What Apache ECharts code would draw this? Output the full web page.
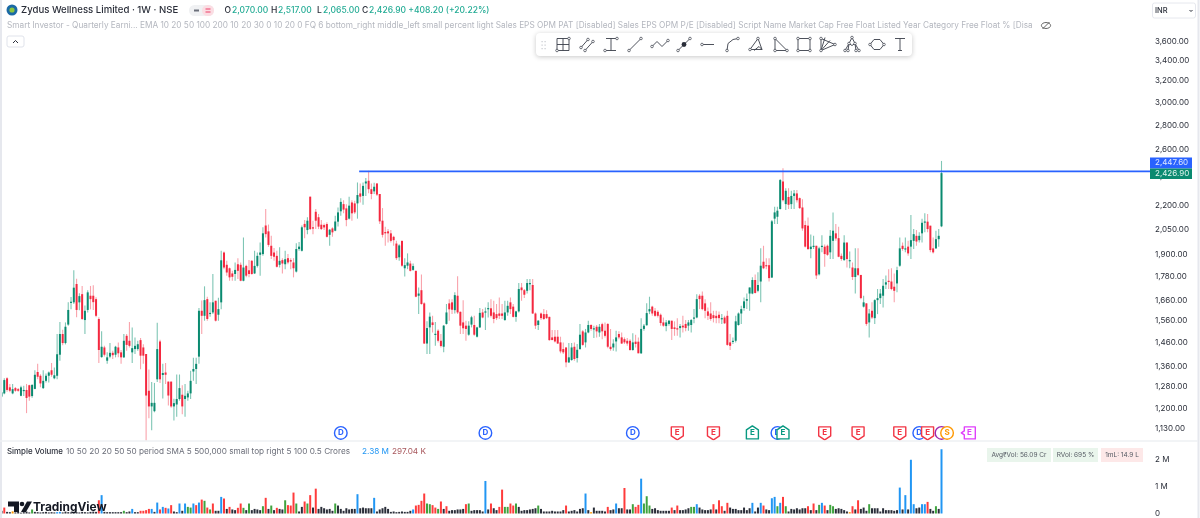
<!DOCTYPE html>
<html>
<head>
<meta charset="utf-8">
<title>Zydus Wellness Limited</title>
<script src="https://cdn.jsdelivr.net/npm/echarts@6/dist/echarts.min.js"></script>
<style>
  html, body { margin: 0; padding: 0; background: #fff; }
  #chart { width: 1200px; height: 518px; }
</style>
</head>
<body>
<div id="chart"></div>
<script>
// weekly candles, each row is [open, close, low, high]
var weeklyCandles = [
  [1244,1260,1240,1270],[1256,1307,1253,1314],[1314,1269,1262,1318],[1279,1266,1260,1292],[1256,1272,1253,1292],
  [1276,1266,1262,1280],[1272,1266,1262,1276],[1247,1279,1245,1285],[1266,1269,1246,1285],[1269,1239,1184,1292],
  [1287,1244,1229,1289],[1246,1288,1240,1292],[1273,1328,1272,1346],[1339,1320,1310,1372],[1324,1294,1279,1330],
  [1276,1304,1273,1346],[1304,1324,1298,1333],[1324,1337,1298,1341],[1346,1328,1320,1376],[1314,1326,1310,1357],
  [1324,1412,1310,1500],[1410,1500,1385,1555],[1500,1460,1450,1519],[1460,1533,1454,1553],[1543,1612,1538,1650],
  [1647,1652,1615,1675],[1649,1723,1641,1815],[1742,1612,1577,1770],[1649,1680,1610,1695],[1690,1569,1564,1732],
  [1564,1608,1500,1633],[1612,1699,1600,1710],[1682,1665,1615,1732],[1682,1650,1612,1735],[1665,1584,1577,1674],
  [1569,1430,1375,1577],[1400,1444,1397,1512],[1441,1410,1402,1448],[1385,1399,1372,1420],[1402,1418,1395,1460],
  [1418,1408,1392,1427],[1410,1444,1399,1448],[1441,1416,1399,1462],[1420,1399,1372,1430],[1399,1470,1396,1500],
  [1492,1452,1427,1500],[1470,1448,1441,1555],[1420,1438,1375,1530],[1434,1448,1413,1485],[1434,1455,1427,1470],
  [1473,1406,1350,1482],[1441,1406,1372,1455],[1413,1248,1090,1413],[1266,1208,1166,1349],[1208,1221,1125,1300],
  [1191,1221,1187,1296],[1310,1434,1300,1552],[1467,1310,1296,1474],[1327,1335,1237,1372],[1337,1328,1292,1376],
  [1301,1248,1211,1301],[1301,1208,1203,1301],[1208,1220,1158,1236],[1215,1235,1171,1329],[1235,1276,1229,1329],
  [1251,1208,1180,1287],[1235,1247,1171,1292],[1241,1256,1229,1266],[1256,1304,1235,1344],[1341,1351,1304,1397],
  [1351,1372,1292,1397],[1402,1608,1372,1622],[1608,1584,1500,1658],[1584,1660,1561,1730],[1665,1569,1561,1677],
  [1595,1598,1580,1650],[1600,1649,1592,1795],[1657,1561,1557,1657],[1589,1616,1561,1672],[1649,1870,1615,1924],
  [1914,1830,1821,1920],[1845,1803,1786,1867],[1826,1777,1759,1830],[1798,1780,1759,1812],[1795,1817,1759,1858],
  [1848,1812,1768,1882],[1845,1759,1756,1858],[1759,1830,1756,2002],[1839,1786,1777,1845],[1815,1795,1777,1871],
  [1867,1795,1791,1871],[1798,1839,1795,1924],[1839,1895,1830,1914],[1901,1914,1786,1972],[1905,2027,1895,2064],
  [2075,2022,2002,2180],[2039,1958,1947,2081],[1953,1895,1877,2012],[1914,1890,1867,1940],[1895,1834,1830,1924],
  [1845,1867,1830,1944],[1871,1852,1798,1882],[1848,1876,1821,1924],[1882,1858,1848,1905],[1871,1863,1821,1882],
  [1858,1826,1777,1882],[1808,1934,1803,1968],[1934,1948,1924,1975],[1924,2064,1920,2075],[2085,2064,1998,2110],
  [2047,2105,2022,2127],[2262,2053,2047,2262],[2064,2056,2022,2105],[2162,2105,2053,2180],[2127,2068,2053,2148],
  [2080,2053,2047,2109],[2078,2063,2047,2088],[2084,2006,2002,2095],[2018,2049,1953,2053],[2057,2033,2006,2064],
  [2043,2100,2039,2137],[2099,2158,2069,2190],[2165,2227,2137,2252],[2212,2176,2152,2238],[2184,2109,2070,2212],
  [2118,2202,2112,2262],[2223,2152,2105,2238],[2217,2158,2148,2234],[2217,2273,2118,2360],[2284,2262,2223,2353],
  [2267,2336,2208,2360],[2353,2367,2267,2391],[2372,2313,2286,2444],[2313,2280,2245,2353],[2298,2330,2280,2358],
  [2353,2276,2267,2355],[2280,2101,2084,2280],[2105,2018,2002,2186],[2035,2027,1953,2068],[2039,2027,1972,2053],
  [2027,1982,1972,2047],[2006,1986,1953,2012],[1966,1882,1872,1982],[1887,1955,1867,1962],[1982,1840,1834,1982],
  [1826,1843,1782,1882],[1840,1858,1821,1909],[1852,1812,1809,1867],[1817,1838,1812,1852],[1812,1677,1674,1812],
  [1682,1693,1592,1724],[1710,1641,1637,1792],[1644,1458,1456,1649],[1458,1527,1413,1558],[1530,1580,1413,1600],
  [1553,1541,1507,1584],[1498,1501,1448,1555],[1515,1470,1463,1522],[1470,1447,1441,1500],[1444,1538,1420,1541],
  [1546,1600,1543,1641],[1644,1615,1561,1665],[1649,1613,1592,1665],[1611,1685,1595,1699],[1682,1600,1592,1783],
  [1603,1538,1500,1605],[1553,1526,1500,1660],[1538,1523,1470,1561],[1497,1538,1492,1558],[1543,1577,1530,1584],
  [1541,1497,1492,1584],[1488,1530,1485,1533],[1530,1598,1527,1621],[1600,1576,1573,1616],[1600,1605,1518,1624],
  [1616,1621,1576,1649],[1620,1584,1576,1665],[1600,1569,1549,1657],[1592,1573,1564,1641],[1595,1584,1569,1673],
  [1595,1584,1569,1641],[1564,1600,1561,1657],[1600,1632,1584,1657],[1649,1616,1592,1673],[1628,1579,1576,1641],
  [1579,1605,1556,1608],[1605,1716,1600,1747],[1724,1710,1657,1747],[1710,1687,1670,1716],[1707,1747,1693,1768],
  [1742,1747,1710,1768],[1737,1595,1592,1768],[1595,1538,1523,1600],[1541,1561,1518,1564],[1595,1573,1564,1600],
  [1592,1569,1564,1616],[1592,1573,1569,1611],[1579,1473,1470,1579],[1485,1473,1473,1518],[1488,1467,1463,1518],
  [1488,1458,1456,1518],[1463,1424,1416,1488],[1434,1420,1413,1463],[1441,1378,1358,1441],[1378,1399,1375,1460],
  [1388,1441,1385,1460],[1444,1392,1385,1463],[1396,1431,1378,1456],[1434,1497,1431,1546],[1512,1452,1448,1518],
  [1463,1507,1441,1523],[1507,1541,1503,1561],[1541,1523,1515,1545],[1523,1526,1482,1538],[1533,1512,1485,1541],
  [1507,1533,1488,1546],[1545,1512,1477,1552],[1515,1492,1485,1553],[1546,1444,1438,1549],[1444,1434,1427,1523],
  [1441,1458,1427,1477],[1467,1485,1424,1515],[1500,1485,1477,1512],[1485,1458,1456,1507],[1477,1463,1456,1485],
  [1470,1458,1448,1482],[1470,1430,1427,1477],[1430,1463,1427,1503],[1466,1456,1441,1497],[1466,1416,1416,1485],
  [1416,1523,1413,1573],[1523,1538,1515,1546],[1540,1597,1538,1644],[1605,1616,1592,1677],[1628,1595,1584,1632],
  [1608,1584,1579,1621],[1603,1584,1576,1611],[1589,1550,1538,1595],[1553,1538,1533,1576],[1536,1553,1512,1564],
  [1546,1561,1538,1564],[1561,1523,1473,1561],[1530,1523,1492,1558],[1526,1523,1492,1573],[1527,1536,1485,1546],
  [1538,1530,1507,1584],[1546,1527,1512,1564],[1538,1553,1515,1564],[1541,1564,1507,1569],[1573,1576,1549,1616],
  [1576,1665,1573,1690],[1682,1665,1616,1690],[1682,1616,1611,1704],[1644,1608,1573,1665],[1605,1584,1564,1624],
  [1595,1569,1561,1649],[1587,1573,1553,1608],[1584,1573,1549,1608],[1589,1573,1549,1605],[1570,1573,1546,1592],
  [1576,1549,1546,1584],[1584,1452,1448,1608],[1463,1448,1430,1500],[1467,1470,1456,1485],[1470,1558,1463,1584],
  [1541,1595,1538,1600],[1595,1616,1546,1632],[1621,1654,1608,1673],[1657,1665,1616,1693],[1693,1724,1608,1724],
  [1693,1763,1690,1778],[1763,1696,1693,1792],[1707,1737,1699,1805],[1755,1840,1649,1938],[1862,1826,1821,1953],
  [1843,1838,1821,1882],[1843,1773,1755,1882],[1776,2101,1773,2109],[2118,2158,2084,2195],[2130,2169,2084,2195],
  [2180,2377,2176,2385],[2367,2238,2230,2463],[2212,2302,2173,2320],[2260,2208,2180,2320],[2212,2267,2180,2302],
  [2267,2284,2180,2307],[2284,2238,2223,2307],[2252,2186,2180,2257],[2190,2057,2043,2245],[2078,1948,1943,2105],
  [2074,1934,1928,2125],[1934,1948,1882,2020],[1948,1953,1934,2012],[1953,1787,1768,1953],[1793,1938,1787,1948],
  [1948,1953,1915,2016],[1948,1905,1834,1960],[1953,1901,1895,1960],[1915,2012,1877,2047],[1982,2043,1877,2158],
  [2027,1996,1982,2084],[1998,1890,1887,2068],[1895,1877,1867,1909],[1871,1972,1867,2016],[1972,1877,1830,1972],
  [1867,1871,1826,1920],[1830,1779,1763,1858],[1779,1826,1693,1938],[1826,1790,1784,1938],[1790,1670,1665,1790],
  [1628,1649,1624,1682],[1644,1546,1538,1644],[1553,1595,1485,1616],[1608,1576,1569,1649],[1573,1660,1546,1665],
  [1660,1670,1592,1716],[1670,1693,1641,1716],[1682,1733,1624,1768],[1739,1751,1716,1787],[1759,1755,1716,1821],
  [1755,1716,1710,1826],[1728,1707,1649,1798],[1745,1816,1699,1834],[1840,1938,1834,2002],[1953,1934,1924,1972],
  [1934,1938,1915,2002],[1948,1909,1895,1982],[1948,1986,1877,2142],[1982,2022,1934,2053],[2012,1978,1953,2047],
  [1986,2012,1972,2033],[2027,2092,1972,2118],[2094,2100,2033,2152],[2099,2053,2033,2147],[2074,1928,1915,2074],
  [1938,1915,1909,2002],[1938,1992,1934,2043],[1992,2012,1948,2053],[2070,2426.9,2065,2517]
];

// weekly volume in thousands
var volumesK = [
  100,220,60,50,80,40,60,30,50,70,40,150,60,50,40,50,60,40,50,40,50,60,40,70,50,40,60,50,40,60,50,40,60,70,60,
  490,680,60,50,50,50,50,50,50,100,
  50,75,170,50,50,100,100,125,170,170,
  60,405,150,245,210,185,310,75,50,370,
  100,370,245,220,370,310,405,515,470,220,
  150,370,100,100,615,555,170,245,150,125,
  210,370,210,125,370,125,170,150,125,270,
  580,170,295,125,210,170,150,490,310,295,
  775,370,75,245,445,370,680,220,920,170,
  245,195,150,170,100,370,295,170,100,195,
  150,170,170,715,195,220,195,195,195,580,
  75,150,195,245,170,60,75,50,60,75,
  60,60,100,150,295,320,470,740,370,345,
  310,220,170,445,170,270,100,125,125,150,
  150,170,345,370,100,125,125,125,
  75,1205,150,370,195,125,245,885,245,245,
  370,295,370,245,100,125,125,150,170,195,
  295,170,75,75,75,100,75,75,75,125,
  295,75,100,125,75,170,195,740,125,50,
  220,100,100,100,75,245,125,150,370,195,
  195,945,150,150,345,245,320,1290,370,640,
  295,170,195,125,100,100,100,100,220,125,
  295,125,125,150,195,245,245,345,220,150,
  125,125,150,345,150,490,270,100,395,220,
  170,170,125,125,220,125,195,395,75,220,
  395,295,150,125,565,615,270,395,615,270,
  75,170,150,195,150,195,195,270,125,370,
  125,320,395,295,125,320,270,170,195,170,
  125,75,50,270,150,490,170,220,100,345,
  195,195,195,75,195,125,125,125,100,125,
  960,150,680,150,1990,345,195,220,345,345,
  430,170,100,270,170,2380
];
// b blue, r red, g green, k black, o orange - same order as volumesK
var volumeKinds = [
  "krkkokkkkkkgkkkkkkkkbbkkkkkkkkkkkkk",
  "rbkkkkkkkg","kkbkkrrrrb","kbrbrbrkkb","kbggbrbrgr","grkkbrkrkk","rrgkgkkkkg","rkgkrkkgrr",
  "rgkkrgrkrk","kkkkkgkkkk","kkkbkkkkkb","kkkkkkkkkk","kkkbrrrrgg","rrgrkrkkkk","kkrgkkkk",
  "kbkrkkrrgg","rrgkkkkkkk","gkkkkkkkkk","rkkkkkkbko","kkkkkrkkbk","krkkgrrbgg","gkkkkkkkrk",
  "rkkkkggbkk","kkkrkrrkrk","kkkkkkkbkk","brkkbbgbrg","kkkkkkkrkr","kgbrkggkkk","kkorkrkkkg",
  "kkkkkkkkkk","bkbkbbkkbb","rkkgkb"
].join("");

var priceTicks = [1130, 1200, 1280, 1360, 1460, 1560, 1660, 1780, 1900, 2050, 2200, 2400, 2600, 2800, 3000, 3200, 3400, 3600];
var volumeTicks = [0, 1000000, 2000000];
var levelPrice = 2440;
var levelStartWeek = 128.6;

// events along the bottom of the price pane
var eventWeeks = [122, 174, 227, 243, 256, 270, 279, 281, 296, 308, 323, 330, 333, 338, 340, 348];
var eventLetters = ["D", "D", "D", "E", "E", "E", "D", "E", "E", "E", "E", "D", "E", "", "S", "E"];
var eventKinds = ["div", "div", "div", "miss", "miss", "beat", "div", "beat", "miss", "miss", "miss", "div", "miss", "split", "sp", "next"];

var eventStyle = {
  div: { color: "#2962ff", shape: "circle" },
  miss: { color: "#f23645", shape: "shield" },
  beat: { color: "#089981", shape: "house" },
  split: { color: "#9c27b0", shape: "circle" },
  sp: { color: "#ff9800", shape: "circle" },
  next: { color: "#e040fb", shape: "tag" }
};
var eventOutline = {
  shield: [[-6, -6], [6, -6], [6, 3], [0, 7], [-6, 3]],
  house: [[0, -7], [6, -3], [6, 6], [-6, 6], [-6, -3]],
  tag: [[-5, -6], [6, -6], [6, 6], [-5, 6], [-5, 2], [-8, 0], [-5, -2]]
};
var volumeColors = { b: "#2196f3", r: "#ff3b3b", g: "#3fa33f", k: "#2a2e39", o: "#ff9800" };

var chartDom = document.getElementById("chart");
var myChart = echarts.init(chartDom);

var font = "Inter";
var paneWidth = 1150;
var firstX = 1.5;
var weekStep = (941.5 - firstX) / (weeklyCandles.length - 1);
var xMin = -firstX / weekStep;
var xMax = (paneWidth - firstX) / weekStep;
var chromeZ = 50; // above the axis labels, the price tags must hide 2,400.00

function formatPrice(v) {
  return Number(v).toLocaleString("en-US", { minimumFractionDigits: 2, maximumFractionDigits: 2 });
}

function renderCandle(params, api) {
  var x = api.coord([api.value(0), api.value(1)])[0];
  var o = api.coord([api.value(0), api.value(1)])[1];
  var c = api.coord([api.value(0), api.value(2)])[1];
  var l = api.coord([api.value(0), api.value(3)])[1];
  var h = api.coord([api.value(0), api.value(4)])[1];
  var up = api.value(2) >= api.value(1);
  var top = Math.min(o, c);
  var bodyH = Math.max(Math.abs(o - c), 1.2);
  return {
    type: "group",
    children: [
      {
        type: "line",
        shape: { x1: x, y1: h, x2: x, y2: l },
        style: { stroke: up ? "#7fc6b5" : "#f9a3ac", lineWidth: 1.1 }
      },
      {
        type: "rect",
        shape: { x: x - 1, y: top, width: 2, height: bodyH },
        style: { fill: up ? "#0a8a70" : "#f4283f" }
      }
    ]
  };
}

function renderEvent(params, api) {
  var p = api.coord([api.value(0), api.value(1)]);
  var letter = eventLetters[params.dataIndex];
  var st = eventStyle[eventKinds[params.dataIndex]];
  var outline;
  if (st.shape === "circle") {
    outline = {
      type: "circle",
      shape: { cx: p[0], cy: p[1], r: 6.3 },
      style: { fill: "#fff", stroke: st.color, lineWidth: 1.4 }
    };
  } else {
    outline = {
      type: "polygon",
      shape: { points: eventOutline[st.shape].map(function (q) { return [p[0] + q[0], p[1] + q[1]]; }) },
      style: { fill: "#fff", stroke: st.color, lineWidth: 1.4, lineJoin: "round" }
    };
  }
  return {
    type: "group",
    children: [
      outline,
      {
        type: "text",
        style: {
          x: p[0], y: p[1], text: letter, fill: st.color, align: "center", verticalAlign: "middle",
          font: "700 8px " + font
        }
      }
    ]
  };
}

// chrome helpers, everything outside the two panes
function label(x, y, text, size, color, weight, align) {
  return {
    type: "text",
    silent: true,
    z: chromeZ,
    style: {
      x: x, y: y, text: text, fill: color, align: align || "left", verticalAlign: "middle",
      font: (weight || 400) + " " + size + "px " + font
    }
  };
}
function box(x, y, w, h, fill, r, stroke) {
  return {
    type: "rect",
    silent: true,
    z: chromeZ,
    shape: { x: x, y: y, width: w, height: h, r: r || 0 },
    style: { fill: fill, stroke: stroke || null, lineWidth: 1 }
  };
}
function stroke(points, color, width) {
  return {
    type: "polyline",
    silent: true,
    z: chromeZ,
    shape: { points: points },
    style: { stroke: color || "#3a3e49", lineWidth: width || 0.9, fill: null }
  };
}
function dot(x, y) {
  return {
    type: "circle",
    silent: true,
    z: chromeZ,
    shape: { cx: x, cy: y, r: 1.3 },
    style: { fill: "#fff", stroke: "#3a3e49", lineWidth: 0.7 }
  };
}

// drawing toolbar, one entry per tool, coordinates around the icon centre
var toolIcons = [
  { x: 563, lines: [[[-6, -6], [6, -6], [6, 6], [-6, 6], [-6, -6]], [[-6, 0], [6, 0]], [[0, -6], [0, 6]]], dots: [[6, -6], [-6, 6]] },
  { x: 587, lines: [[[-6, 3], [1, -5]], [[-2, 6], [6, -3]]], dots: [[-6, 3], [1, -5], [-2, 6], [6, -3]] },
  { x: 611, lines: [[[-5, -6], [6, -6]], [[-6, 6], [5, 6]], [[0, -6], [0, 6]]], dots: [[6, -6], [-6, 6]] },
  { x: 635, lines: [[[-6, 6], [6, -6]]], dots: [[-6, 6], [6, -6]] },
  { x: 660, lines: [[[-8, 2], [-3, -3], [2, 2], [8, -4]]], dots: [[-8, 2], [8, -4]] },
  { x: 684, lines: [[[-6, 6], [6, -6]]], dots: [[-6, 6], [6, -6]], solid: [0, 0] },
  { x: 708, lines: [[[-7, 0], [6, 0]]], dots: [[-6, 0]] },
  { x: 732, lines: [[[-5, 6], [-4, -1], [1, -5], [6, -6]]], dots: [[-5, 6], [6, -6]] },
  { x: 756, lines: [[[-6, 5], [2, -6], [6, 5], [-6, 5]], [[-2, 6], [3, 2], [6, 5]]], dots: [[-6, 5], [2, -6]] },
  { x: 780, lines: [[[-5, -6], [-5, 6], [7, 6], [-5, -6]]], dots: [[-5, -6], [-5, 6], [7, 6]] },
  { x: 804, lines: [[[-6, -6], [6, -6], [6, 6], [-6, 6], [-6, -6]]], dots: [[-6, -6], [6, -6], [6, 6], [-6, 6]] },
  { x: 828, lines: [[[-7, -6], [-7, 6], [7, 0], [-7, -6]], [[-3, -7], [-7, 6]], [[2, -4], [-7, 6]]], dots: [[-7, -6], [-7, 6], [7, 0]] },
  { x: 852, lines: [[[-7, 6], [-3, -1], [0, -7], [3, -1], [7, 6]], [[-4, 6], [-3, -1], [0, 1], [3, -1], [4, 6]]], dots: [[-7, 6], [-4, 6], [0, -7], [4, 6], [7, 6], [-3, -1], [3, -1]] },
  { x: 877, lines: [[[-7, 0], [-3, -5], [3, -5], [7, 0], [3, 5], [-3, 5], [-7, 0]]], dots: [[-7, 0], [7, 0]] }
];
var toolbarY = 44.5;
var toolbar = [{
  type: "rect",
  silent: true,
  z: chromeZ,
  shape: { x: 536, y: 33, width: 376, height: 23, r: 4 },
  style: { fill: "#fff", shadowBlur: 5, shadowColor: "rgba(0,0,0,0.22)", shadowOffsetY: 1 }
}];
[541.5, 544.5].forEach(function (dx) {
  [41, 44.5, 48].forEach(function (dy) {
    toolbar.push(box(dx, dy, 1.2, 1.2, "#c8cad0"));
  });
});
toolIcons.forEach(function (icon) {
  icon.lines.forEach(function (pts) {
    toolbar.push(stroke(pts.map(function (q) { return [icon.x + q[0], toolbarY + q[1]]; })));
  });
  if (icon.solid) {
    toolbar.push({ type: "circle", silent: true, z: chromeZ, shape: { cx: icon.x + icon.solid[0], cy: toolbarY + icon.solid[1], r: 2.4 }, style: { fill: "#2a2e39" } });
  }
  icon.dots.forEach(function (q) {
    toolbar.push(dot(icon.x + q[0], toolbarY + q[1]));
  });
});
toolbar.push(stroke([[895, 38.5], [905, 38.5]]), stroke([[900, 38.5], [900, 50.5]]), stroke([[898, 50.5], [902, 50.5]]));

var chrome = [
  // pane borders
  stroke([[1, 0], [1, 518]], "#e6e8ee", 2),
  stroke([[1198.5, 0], [1198.5, 518]], "#e6e8ee", 2),
  stroke([[0, 441], [1198, 441]], "#eef0f3", 1.5),

  // header
  { type: "circle", silent: true, z: chromeZ, shape: { cx: 12, cy: 10, r: 5.5 }, style: { fill: "#1b6aa5" } },
  { type: "circle", silent: true, z: chromeZ, shape: { cx: 12, cy: 10, r: 2.6 }, style: { fill: "#8dc63f" } },
  label(21, 10.5, "Zydus Wellness Limited · 1W · NSE", 9.6, "#2a2e39", 500),
  box(189, 5, 25, 11, "#f0f1f3", 5.5),
  box(202, 5, 12, 11, "#fbdde3", 5.5),
  stroke([[194, 10.5], [199, 10.5]], "#6b6f7a", 2),
  stroke([[205.5, 9], [210.5, 9]], "#ef5b7d", 1.2),
  stroke([[205.5, 12], [210.5, 12]], "#ef5b7d", 1.2),
  label(224.5, 10.5, "O", 8.5, "#2a2e39", 500),
  label(232, 10.5, "2,070.00", 8.5, "#22ab94", 500),
  label(271, 10.5, "H", 8.5, "#2a2e39", 500),
  label(278, 10.5, "2,517.00", 8.5, "#22ab94", 500),
  label(317, 10.5, "L", 8.5, "#2a2e39", 500),
  label(323, 10.5, "2,065.00", 8.5, "#22ab94", 500),
  label(362, 10.5, "C", 8.5, "#2a2e39", 500),
  label(369, 10.5, "2,426.90 +408.20 (+20.22%)", 8.5, "#22ab94", 500),
  label(7, 25.5, "Smart Investor - Quarterly Earni...", 8.25, "#b4b7bf"),
  label(140, 25.5, "EMA 10 20 50 100 200 10 20 30 0 10 20 0 FQ 6 bottom_right middle_left small percent light Sales EPS OPM PAT [Disabled] Sales EPS OPM P/E [Disabled] Script Name Market Cap Free Float Listed Year Category Free Float % [Disa", 8.25, "#b4b7bf"),
  // hidden-indicators eye
  { type: "ellipse", silent: true, z: chromeZ, shape: { cx: 1046, cy: 25.5, rx: 4.6, ry: 3 }, style: { fill: null, stroke: "#555", lineWidth: 0.9 } },
  stroke([[1042.5, 29], [1049.5, 22]], "#555", 0.9),
  // collapse button
  box(7, 36, 17, 11, "#fff", 2, "#e0e3eb"),
  stroke([[13, 43], [15.5, 40.5], [18, 43]], "#2a2e39", 1),
  // currency select
  box(1152.5, 3, 43, 15, "#fff", 2, "#e6e8ee"),
  label(1155, 10.5, "INR", 7.5, "#2a2e39", 500),
  stroke([[1189.5, 10], [1191, 11.5], [1192.5, 10]], "#2a2e39", 1),

  // price tags
  box(1150, 157.5, 42, 11, "#2962ff"),
  label(1155, 163, "2,447.60", 8, "#dfe8ff"),
  box(1150, 168.5, 42, 10.5, "#0a8a70"),
  label(1155, 173.8, "2,426.90", 8, "#dff5ef"),

  // volume pane legend
  label(7, 452, "Simple Volume", 7.9, "#2a2e39", 500),
  label(66, 452, "10 50 20 20 50 50 period SMA 5 500,000 small top right 5 100 0.5 Crores", 8.2, "#6a6d78"),
  label(362, 452, "2.38 M", 8.2, "#2196f3"),
  label(392, 452, "297.04 K", 8.2, "#a8575c"),
  box(987, 448, 64, 14, "#e9f5ec"),
  label(1019, 455, "Avg₹Vol: 56.09 Cr", 6.5, "#555a63", 400, "center"),
  box(1053, 448, 45, 14, "#e9f5ec"),
  label(1075.5, 455, "RVol: 695 %", 6.5, "#555a63", 400, "center"),
  box(1101, 448, 42, 14, "#fde8e8"),
  label(1122, 455, "1mL: 14.9 L", 6.5, "#555a63", 400, "center"),

  // TradingView mark
  { type: "polygon", silent: true, z: chromeZ, shape: { points: [[8, 501.5], [19, 501.5], [19, 512], [14, 512], [14, 506.5], [8, 506.5]] }, style: { fill: "#131722" } },
  { type: "circle", silent: true, z: chromeZ, shape: { cx: 22, cy: 504, r: 2.3 }, style: { fill: "#131722" } },
  { type: "polygon", silent: true, z: chromeZ, shape: { points: [[27, 501.5], [32, 501.5], [26, 512], [21, 512]] }, style: { fill: "#131722" } },
  label(33, 507, "TradingView", 11.9, "#131722", 700)
];

var option = {
  animation: false,
  backgroundColor: "#fff",
  textStyle: { fontFamily: font },
  grid: [
    { left: 0, top: 0.8, width: paneWidth, height: 440 },
    { left: 0, top: 441, width: paneWidth, height: 72.5 }
  ],
  xAxis: [
    { type: "value", gridIndex: 0, min: xMin, max: xMax, show: false },
    { type: "value", gridIndex: 1, min: xMin, max: xMax, show: false }
  ],
  yAxis: [
    {
      type: "log",
      gridIndex: 0,
      position: "right",
      min: 1090,
      max: 4063,
      logBase: Math.E,
      axisLine: { show: false },
      axisTick: { show: false },
      splitLine: { show: false },
      axisLabel: {
        customValues: priceTicks,
        margin: 5,
        fontSize: 8,
        color: "#2a2e39",
        fontFamily: font,
        formatter: formatPrice
      }
    },
    {
      type: "value",
      gridIndex: 1,
      position: "right",
      min: 0,
      max: 2685000,
      axisLine: { show: false },
      axisTick: { show: false },
      splitLine: { show: false },
      axisLabel: {
        customValues: volumeTicks,
        margin: 5,
        fontSize: 8,
        color: "#2a2e39",
        fontFamily: font,
        formatter: function (v) {
          return v === 0 ? "0" : v / 1000000 + " M";
        }
      }
    }
  ],
  series: [
    {
      type: "custom",
      name: "Price",
      xAxisIndex: 0,
      yAxisIndex: 0,
      renderItem: renderCandle,
      encode: { x: 0, y: [1, 2, 3, 4] },
      data: weeklyCandles.map(function (row, i) {
        return [i, row[0], row[1], row[2], row[3]];
      })
    },
    {
      type: "line",
      name: "Level",
      xAxisIndex: 0,
      yAxisIndex: 0,
      symbol: "none",
      lineStyle: { color: "#2962ff", width: 1.7 },
      data: [[levelStartWeek, levelPrice], [xMax, levelPrice]]
    },
    {
      type: "custom",
      name: "Events",
      xAxisIndex: 0,
      yAxisIndex: 0,
      clip: false,
      renderItem: renderEvent,
      encode: { x: 0, y: 1 },
      data: eventWeeks.map(function (w) {
        return [w, 1116];
      })
    },
    {
      type: "bar",
      name: "Volume",
      xAxisIndex: 1,
      yAxisIndex: 1,
      barWidth: 2,
      data: volumesK.map(function (v, i) {
        return {
          value: [i, v * 1000],
          itemStyle: { color: volumeColors[volumeKinds[i]] }
        };
      })
    }
  ],
  graphic: { elements: chrome.concat(toolbar) }
};

myChart.setOption(option);
</script>
</body>
</html>
